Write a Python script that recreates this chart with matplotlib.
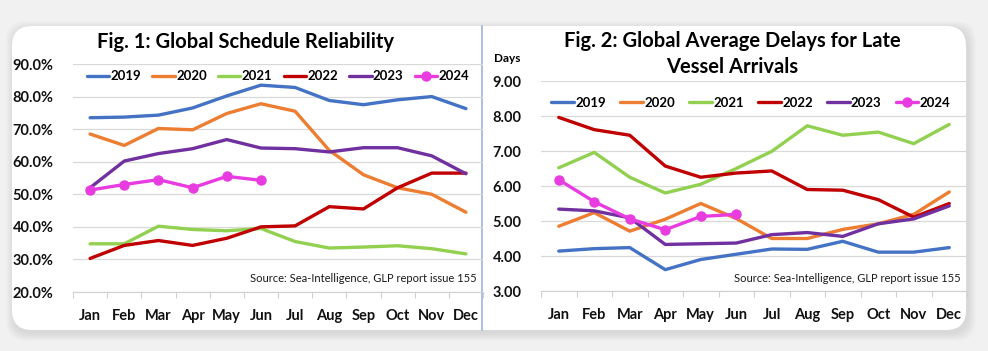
#%% Imports
import matplotlib
matplotlib.use('Agg')
import matplotlib.pyplot as plt
from matplotlib.patches import FancyBboxPatch
from matplotlib.ticker import FixedLocator, NullFormatter

#%% Data
months = ['Jan', 'Feb', 'Mar', 'Apr', 'May', 'Jun', 'Jul', 'Aug', 'Sep', 'Oct', 'Nov', 'Dec']
years = ['2019', '2020', '2021', '2022', '2023', '2024']

# Fig. 1 - schedule reliability (%)
rel_2019 = [73.5, 73.7, 74.3, 76.5, 80.2, 83.5, 82.8, 78.8, 77.5, 79.0, 80.0, 76.3]
rel_2020 = [68.5, 65.0, 70.2, 69.8, 74.8, 77.8, 75.5, 63.5, 56.0, 52.0, 50.0, 44.5]
rel_2021 = [34.8, 34.8, 40.2, 39.2, 38.8, 39.5, 35.5, 33.5, 33.8, 34.2, 33.3, 31.7]
rel_2022 = [30.3, 34.3, 35.8, 34.3, 36.5, 40.0, 40.3, 46.2, 45.5, 52.0, 56.5, 56.5]
rel_2023 = [52.0, 60.2, 62.5, 64.0, 66.8, 64.2, 64.0, 63.0, 64.3, 64.3, 61.8, 56.3]
rel_2024 = [51.3, 53.0, 54.5, 52.0, 55.5, 54.3]

# Fig. 2 - average delay for late vessels (days)
del_2019 = [4.14, 4.21, 4.24, 3.61, 3.90, 4.05, 4.20, 4.19, 4.42, 4.11, 4.11, 4.24]
del_2020 = [4.85, 5.24, 4.71, 5.05, 5.50, 5.07, 4.50, 4.50, 4.76, 4.92, 5.19, 5.83]
del_2021 = [6.52, 6.96, 6.25, 5.80, 6.05, 6.50, 6.99, 7.72, 7.45, 7.54, 7.21, 7.76]
del_2022 = [7.96, 7.61, 7.45, 6.57, 6.25, 6.37, 6.43, 5.90, 5.88, 5.61, 5.11, 5.50]
del_2023 = [5.34, 5.29, 5.09, 4.33, 4.35, 4.37, 4.61, 4.67, 4.56, 4.92, 5.06, 5.43]
del_2024 = [6.18, 5.55, 5.06, 4.75, 5.13, 5.19]

rel_ticks = [20, 30, 40, 50, 60, 70, 80, 90]
del_ticks = [3, 4, 5, 6, 7, 8, 9]

colors = ['#4472C4', '#ED7D31', '#92D050', '#C00000', '#7030A0', '#E83BE0']
source = 'Source: Sea-Intelligence, GLP report issue 155'

plt.rcParams['font.family'] = ['Lato', 'DejaVu Sans']

#%% Figure and card background
fig = plt.figure(figsize=(9.88, 3.51), dpi=100, facecolor='#f1f1f1')
bg = fig.add_axes([0, 0, 1, 1])
bg.set_xlim(0, 988)
bg.set_ylim(351, 0)
bg.axis('off')
# soft shadow
for k in range(8, 0, -1):
    bg.add_patch(FancyBboxPatch((12 + 2, 26 + 3), 954, 304,
        boxstyle='round,pad={},rounding_size=20'.format(k), facecolor='#000000',
        edgecolor='none', alpha=0.012))
bg.add_patch(FancyBboxPatch((12, 26), 954, 304, boxstyle='round,pad=0,rounding_size=20',
    facecolor='white', edgecolor='none'))
bg.plot([482, 482], [26, 330], color='#9db3e0', linewidth=1.2)

#%% plot_panel
def plot_panel(ax, series, ticks, fmt, legend_y, legend_x, spacing):
    x = list(range(len(months)))
    for (name, vals, color) in zip(years, series, colors):
        if name == '2024':
            ax.plot(x[:len(vals)], vals, color=color, linewidth=2.4, marker='o', markersize=6.5,
                label=name, zorder=4, solid_capstyle='round')
        else:
            ax.plot(x[:len(vals)], vals, color=color, linewidth=2.4, label=name, zorder=3,
                solid_capstyle='round')
    ax.set_facecolor('none')
    ax.set_xlim(-0.5, len(months) - 0.5)
    ax.set_ylim(ticks[0], ticks[-1])
    ax.set_yticks(ticks)
    ax.set_yticklabels([fmt.format(t) for t in ticks], fontsize=10.5, fontweight='bold',
        color='#111111')
    ax.set_xticks(x)
    ax.set_xticklabels(months, fontsize=10.5, fontweight='bold', color='#111111')
    ax.xaxis.set_minor_locator(FixedLocator([i - 0.5 for i in range(len(months) + 1)]))
    ax.xaxis.set_minor_formatter(NullFormatter())
    ax.tick_params(axis='x', which='major', length=0, pad=12)
    ax.tick_params(axis='x', which='minor', length=4, color='#d0d0d0', width=0.8)
    ax.tick_params(axis='y', length=0, pad=14)
    for side in ['left', 'right', 'top']:
        ax.spines[side].set_visible(False)
    ax.spines['bottom'].set_color('#d0d0d0')
    ax.spines['bottom'].set_linewidth(0.8)
    ax.grid(axis='y', color='#d9d9d9', linewidth=0.9)
    ax.set_axisbelow(True)
    ax.legend(loc='center', bbox_to_anchor=(legend_x, legend_y), ncol=6, frameon=False,
        handlelength=1.7, handletextpad=0.1, columnspacing=spacing, borderaxespad=0,
        prop={'weight': 'bold', 'size': 9.5})
    ax.text(0.985, 0.035, source, transform=ax.transAxes, ha='right', va='bottom', fontsize=8,
        color='#1a1a1a', zorder=6, bbox=dict(facecolor='white', edgecolor='none', pad=1.5))

#%% Fig. 1
ax1 = fig.add_axes([73 / 988, 1 - 292 / 351, 410 / 988, 228 / 351])
plot_panel(ax1, [rel_2019, rel_2020, rel_2021, rel_2022, rel_2023, rel_2024], rel_ticks,
    '{:.1f}%', 0.946, 0.5, 0.85)
fig.text(245 / 988, 1 - 42 / 351, 'Fig. 1: Global Schedule Reliability', ha='center',
    va='center', fontsize=14.5, fontweight='bold')

#%% Fig. 2
ax2 = fig.add_axes([541 / 988, 1 - 291 / 351, 426 / 988, 210 / 351])
plot_panel(ax2, [del_2019, del_2020, del_2021, del_2022, del_2023, del_2024], del_ticks,
    '{:.2f}', 0.897, 0.493, 1.1)
fig.text(732 / 988, 1 - 41 / 351, 'Fig. 2: Global Average Delays for Late', ha='center',
    va='center', fontsize=14.5, fontweight='bold')
fig.text(732 / 988, 1 - 67 / 351, 'Vessel Arrivals', ha='center', va='center', fontsize=14.5,
    fontweight='bold')
fig.text(494 / 988, 1 - 59 / 351, 'Days', ha='left', va='center', fontsize=8.5,
    fontweight='bold')

fig.savefig('out.png', dpi=100, facecolor=fig.get_facecolor())
